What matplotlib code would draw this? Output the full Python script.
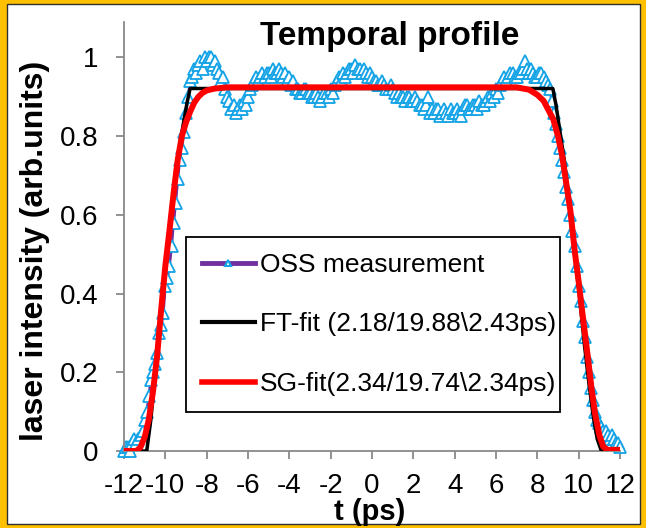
import matplotlib
matplotlib.use('Agg')
import matplotlib.pyplot as plt
from matplotlib.lines import Line2D
from matplotlib.patches import Rectangle

plt.rcParams['font.family'] = ['Liberation Sans', 'DejaVu Sans']
plt.rcParams['axes.unicode_minus'] = False

# OSS measurement, 0.1 ps steps
T_OSS = [
    -12.0, -11.9, -11.8, -11.7, -11.6, -11.5, -11.4, -11.3, -11.2, -11.1,
    -11.0, -10.9, -10.8, -10.7, -10.6, -10.5, -10.4, -10.3, -10.2, -10.1,
    -10.0, -9.9, -9.8, -9.7, -9.6, -9.5, -9.4, -9.3, -9.2, -9.1,
    -9.0, -8.9, -8.8, -8.7, -8.6, -8.5, -8.4, -8.3, -8.2, -8.1,
    -8.0, -7.9, -7.8, -7.7, -7.6, -7.5, -7.4, -7.3, -7.2, -7.1,
    -7.0, -6.9, -6.8, -6.7, -6.6, -6.5, -6.4, -6.3, -6.2, -6.1,
    -6.0, -5.9, -5.8, -5.7, -5.6, -5.5, -5.4, -5.3, -5.2, -5.1,
    -5.0, -4.9, -4.8, -4.7, -4.6, -4.5, -4.4, -4.3, -4.2, -4.1,
    -4.0, -3.9, -3.8, -3.7, -3.6, -3.5, -3.4, -3.3, -3.2, -3.1,
    -3.0, -2.9, -2.8, -2.7, -2.6, -2.5, -2.4, -2.3, -2.2, -2.1,
    -2.0, -1.9, -1.8, -1.7, -1.6, -1.5, -1.4, -1.3, -1.2, -1.1,
    -1.0, -0.9, -0.8, -0.7, -0.6, -0.5, -0.4, -0.3, -0.2, -0.1,
    0.0, 0.1, 0.2, 0.3, 0.4, 0.5, 0.6, 0.7, 0.8, 0.9,
    1.0, 1.1, 1.2, 1.3, 1.4, 1.5, 1.6, 1.7, 1.8, 1.9,
    2.0, 2.1, 2.2, 2.3, 2.4, 2.5, 2.6, 2.7, 2.8, 2.9,
    3.0, 3.1, 3.2, 3.3, 3.4, 3.5, 3.6, 3.7, 3.8, 3.9,
    4.0, 4.1, 4.2, 4.3, 4.4, 4.5, 4.6, 4.7, 4.8, 4.9,
    5.0, 5.1, 5.2, 5.3, 5.4, 5.5, 5.6, 5.7, 5.8, 5.9,
    6.0, 6.1, 6.2, 6.3, 6.4, 6.5, 6.6, 6.7, 6.8, 6.9,
    7.0, 7.1, 7.2, 7.3, 7.4, 7.5, 7.6, 7.7, 7.8, 7.9,
    8.0, 8.1, 8.2, 8.3, 8.4, 8.5, 8.6, 8.7, 8.8, 8.9,
    9.0, 9.1, 9.2, 9.3, 9.4, 9.5, 9.6, 9.7, 9.8, 9.9,
    10.0, 10.1, 10.2, 10.3, 10.4, 10.5, 10.6, 10.7, 10.8, 10.9,
    11.0, 11.1, 11.2, 11.3, 11.4, 11.5, 11.6, 11.7, 11.8, 11.9,
    12.0]
OSS = [
    0.00, 0.01, 0.01, 0.00, 0.02, 0.03, 0.02, 0.03, 0.04, 0.05,
    0.08, 0.10, 0.14, 0.18, 0.20, 0.22, 0.25, 0.30, 0.32, 0.35,
    0.42, 0.44, 0.47, 0.52, 0.58, 0.63, 0.69, 0.74, 0.77, 0.81,
    0.86, 0.90, 0.94, 0.95, 0.97, 0.96, 0.98, 0.99, 0.97, 1.00,
    0.99, 1.00, 1.00, 0.98, 0.99, 0.97, 0.96, 0.94, 0.95, 0.92,
    0.90, 0.89, 0.87, 0.88, 0.86, 0.87, 0.88, 0.87, 0.89, 0.88,
    0.90, 0.92, 0.93, 0.94, 0.95, 0.94, 0.95, 0.96, 0.95, 0.96,
    0.96, 0.95, 0.97, 0.96, 0.96, 0.97, 0.96, 0.95, 0.96, 0.94,
    0.95, 0.93, 0.94, 0.92, 0.92, 0.91, 0.91, 0.92, 0.92, 0.91,
    0.91, 0.90, 0.90, 0.91, 0.90, 0.89, 0.90, 0.91, 0.91, 0.90,
    0.92, 0.91, 0.93, 0.94, 0.95, 0.94, 0.96, 0.95, 0.96, 0.97,
    0.97, 0.96, 0.98, 0.97, 0.97, 0.96, 0.97, 0.96, 0.95, 0.96,
    0.95, 0.94, 0.94, 0.93, 0.93, 0.94, 0.93, 0.92, 0.92, 0.93,
    0.92, 0.91, 0.90, 0.91, 0.90, 0.90, 0.89, 0.90, 0.90, 0.89,
    0.89, 0.90, 0.89, 0.88, 0.88, 0.87, 0.88, 0.90, 0.86, 0.87,
    0.86, 0.87, 0.87, 0.85, 0.86, 0.87, 0.86, 0.85, 0.87, 0.86,
    0.86, 0.87, 0.86, 0.85, 0.87, 0.88, 0.88, 0.87, 0.87, 0.88,
    0.88, 0.87, 0.89, 0.88, 0.88, 0.89, 0.90, 0.89, 0.91, 0.90,
    0.92, 0.91, 0.93, 0.94, 0.95, 0.94, 0.95, 0.96, 0.96, 0.95,
    0.95, 0.96, 0.96, 0.97, 0.99, 0.97, 0.96, 0.97, 0.96, 0.95,
    0.95, 0.96, 0.96, 0.95, 0.94, 0.93, 0.92, 0.89, 0.86, 0.83,
    0.80, 0.77, 0.74, 0.71, 0.67, 0.64, 0.60, 0.56, 0.52, 0.47,
    0.42, 0.38, 0.33, 0.29, 0.24, 0.20, 0.16, 0.13, 0.10, 0.08,
    0.07, 0.06, 0.05, 0.05, 0.04, 0.03, 0.04, 0.03, 0.02, 0.02,
    0.01]

# flat-top fit
T_FT = [-12.0, -10.9, -10.7, -10.5, -10.3, -10.1, -9.9, -9.7, -9.5, -9.3,
        -9.1, -8.95, -8.8, 8.75, 8.9, 9.1, 9.3, 9.5, 9.7, 9.9,
        10.1, 10.3, 10.5, 10.7, 10.9, 11.1, 12.0]
FT = [0.0, 0.0, 0.08, 0.19, 0.30, 0.41, 0.52, 0.62, 0.71, 0.78,
      0.84, 0.885, 0.921, 0.921, 0.88, 0.81, 0.74, 0.65, 0.56, 0.46,
      0.36, 0.26, 0.17, 0.09, 0.03, 0.0, 0.0]

# super-gaussian fit
T_SG = [-12.0, -11.4, -11.2, -11.0, -10.8, -10.6, -10.4, -10.2, -10.0, -9.8,
        -9.6, -9.4, -9.2, -9.0, -8.8, -8.6, -8.4, -8.2, -8.0, -7.6,
        -7.0, 7.0, 7.6, 8.0, 8.3, 8.5, 8.77, 9.0, 9.2, 9.42,
        9.6, 9.82, 10.0, 10.14, 10.3, 10.46, 10.62, 10.79, 11.0, 11.19,
        11.4, 12.0]
SG = [0.0, 0.0, 0.01, 0.035, 0.08, 0.15, 0.24, 0.36, 0.47, 0.56,
      0.655, 0.74, 0.80, 0.835, 0.862, 0.885, 0.90, 0.91, 0.916, 0.921,
      0.924, 0.924, 0.918, 0.905, 0.89, 0.87, 0.843, 0.80, 0.75, 0.673,
      0.61, 0.503, 0.43, 0.368, 0.30, 0.232, 0.16, 0.096, 0.04, 0.011,
      0.003, 0.003]

X_TICKS = [-12, -10, -8, -6, -4, -2, 0, 2, 4, 6, 8, 10, 12]
Y_TICKS = [0, 0.2, 0.4, 0.6, 0.8, 1.0]
Y_LABELS = ['0', '0.2', '0.4', '0.6', '0.8', '1']

LEGEND_LABELS = ['OSS measurement', 'FT-fit (2.18/19.88\\2.43ps)',
                 'SG-fit(2.34/19.74\\2.34ps)']

PURPLE = '#7030A0'
BLUE = '#13A3E6'
GREY = '#898989'
W, H = 646, 528

fig = plt.figure(figsize=(W / 100, H / 100), dpi=100)
fig.patch.set_facecolor('#FFC000')
fig.patches.append(Rectangle((7 / W, 4 / H), 633 / W, 520 / H,
                             transform=fig.transFigure, facecolor='white',
                             edgecolor='#303030', lw=1.0, zorder=-10))

ax = fig.add_axes([124 / W, 77 / H, 496 / W, 429 / H])
ax.patch.set_alpha(0)

ax.plot(T_OSS, OSS, color=PURPLE, lw=2.0, marker='^', ms=8, mfc='white',
        mec=BLUE, mew=1.3, zorder=2, clip_on=False)
ax.plot(T_FT, FT, color='black', lw=2.5, zorder=3)
ax.plot(T_SG, SG, color='#FF0000', lw=4.3, zorder=4, solid_capstyle='butt')

ax.set_xlim(-12, 12)
ax.set_ylim(0, 1.09)
ax.set_xticks(X_TICKS)
ax.set_xticklabels([str(v) for v in X_TICKS])
ax.set_yticks(Y_TICKS)
ax.set_yticklabels(Y_LABELS)

for side in ['top', 'right']:
    ax.spines[side].set_visible(False)
for side in ['left', 'bottom']:
    ax.spines[side].set_color(GREY)
    ax.spines[side].set_linewidth(1.3)
ax.tick_params(direction='out', length=6, width=1.3, color=GREY, labelsize=20)
ax.tick_params(axis='x', pad=10)
ax.tick_params(axis='y', pad=12.5)

handles = [
    Line2D([], [], color=PURPLE, lw=3.5, marker='^', ms=5, mfc='white',
           mec=BLUE, mew=1.5),
    Line2D([], [], color='black', lw=3.0),
    Line2D([], [], color='#FF0000', lw=4.0),
]
leg = ax.legend(handles, LEGEND_LABELS, loc='upper left',
                bbox_to_anchor=(0.125, 0.0, 0.754, 0.499), mode='expand',
                fontsize=19, frameon=True, fancybox=False, borderpad=0.6,
                labelspacing=1.35, handlelength=2.0, handletextpad=0.2,
                borderaxespad=0, numpoints=1)
leg.get_frame().set_edgecolor('black')
leg.get_frame().set_linewidth(1.3)
leg.get_frame().set_alpha(1)

fig.text(390 / W, 1 - 45 / H, 'Temporal profile', ha='center', va='baseline',
         fontsize=24, fontweight='bold')
fig.text(35 / W, 1 - 251 / H, 'laser intensity (arb.units)', rotation=90,
         ha='center', va='center', fontsize=23, fontweight='bold')
fig.text(370 / W, 1 - 512 / H, 't (ps)', ha='center', va='center',
         fontsize=21, fontweight='bold')

fig.savefig('out.png', dpi=100)
